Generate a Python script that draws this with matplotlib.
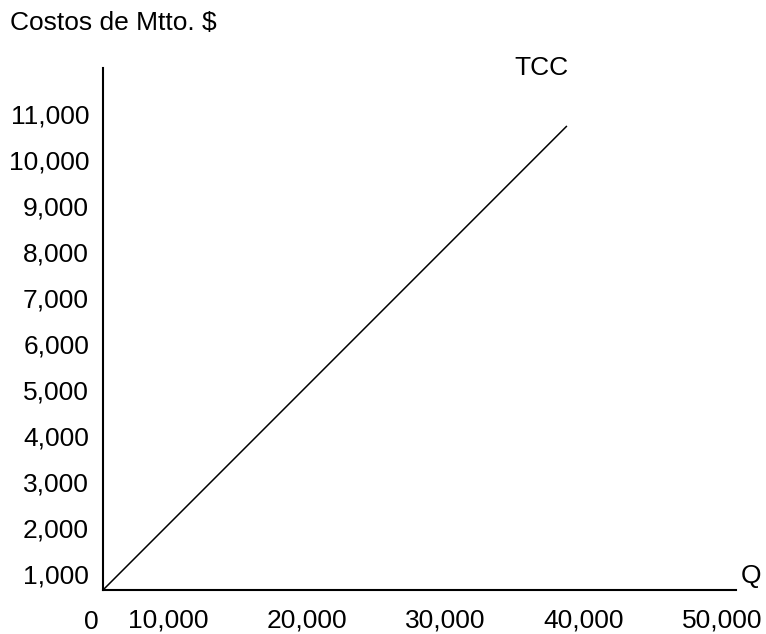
import matplotlib
matplotlib.use("Agg")
import matplotlib.pyplot as plt

plt.rcParams['font.family'] = ['Liberation Sans', 'DejaVu Sans']

# Data
x_ticks = [10000, 20000, 30000, 40000, 50000]
x_tick_labels = ["10,000", "20,000", "30,000", "40,000", "50,000"]
y_ticks = [1000, 2000, 3000, 4000, 5000, 6000, 7000, 8000, 9000, 10000, 11000]
y_tick_labels = ["1,000", "2,000", "3,000", "4,000", "5,000", "6,000",
                 "7,000", "8,000", "9,000", "10,000", "11,000"]
tcc_q = [5300, 38800]
tcc_cost = [650, 10740]

W, H = 766, 634
fig = plt.figure(figsize=(W / 100, H / 100), dpi=100)
ax = fig.add_axes([103 / W, (H - 590) / H, (736 - 103) / W, (590 - 68) / H])

ax.set_xlim(5300, 51010)
ax.set_ylim(650, 12000)

ax.plot(tcc_q, tcc_cost, color='black', lw=1.1, solid_capstyle='butt')

for s in ['top', 'right']:
    ax.spines[s].set_visible(False)
for s in ['left', 'bottom']:
    ax.spines[s].set_linewidth(1.5)
    ax.spines[s].set_color('black')

fs = 19
ax.set_xticks(x_ticks, x_tick_labels, fontsize=fs)
ax.set_yticks(y_ticks, y_tick_labels, fontsize=fs)
ax.tick_params(axis='x', length=0, pad=13.5)
ax.tick_params(axis='y', length=0, pad=10)

# "0" label at origin, on the same row as the x tick labels
fig.text(91 / W, 1 - 622 / H, "0", fontsize=fs, ha='center', va='center')

fig.text(10 / W, 1 - 23 / H, "Costos de Mtto. $", fontsize=fs, ha='left', va='center')
fig.text(541 / W, 1 - 68 / H, "TCC", fontsize=fs, ha='center', va='center')
fig.text(751 / W, 1 - 576 / H, "Q", fontsize=fs, ha='center', va='center')

fig.savefig("out.png", dpi=100)
